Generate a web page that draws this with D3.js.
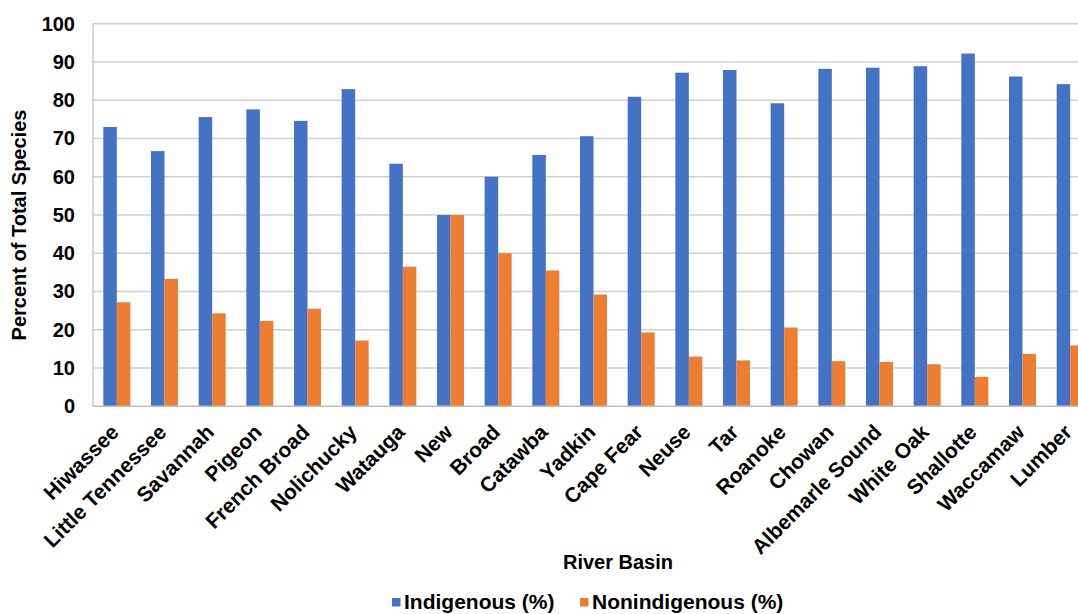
<!DOCTYPE html>
<html>
<head>
<meta charset="utf-8">
<script src="https://cdn.jsdelivr.net/npm/d3@7"></script>
<style>
  body { margin: 0; background: #fff; }
  svg { display: block; font-family: "Liberation Sans", Arial, sans-serif; }
</style>
</head>
<body>
<svg id="chart" width="1078" height="614"></svg>
<script>
const categories = ["Hiwassee", "Little Tennessee", "Savannah", "Pigeon", "French Broad", "Nolichucky",
  "Watauga", "New", "Broad", "Catawba", "Yadkin", "Cape Fear", "Neuse", "Tar", "Roanoke", "Chowan",
  "Albemarle Sound", "White Oak", "Shallotte", "Waccamaw", "Lumber"];
const indigenous = [73.0, 66.7, 75.6, 77.6, 74.6, 82.9, 63.4, 50.0, 60.0, 65.7, 70.6, 80.9, 87.2, 87.9,
  79.2, 88.2, 88.5, 88.9, 92.2, 86.2, 84.2];
const nonindigenous = [27.2, 33.3, 24.3, 22.3, 25.5, 17.2, 36.5, 50.0, 40.0, 35.5, 29.2, 19.3, 13.0, 12.0,
  20.6, 11.8, 11.6, 11.0, 7.7, 13.7, 15.9];
const seriesNames = ["Indigenous (%)", "Nonindigenous (%)"];
const seriesColors = ["#4472C4", "#ED7D31"];
const yTicks = [0, 10, 20, 30, 40, 50, 60, 70, 80, 90, 100];

const svg = d3.select("#chart");
const mLeft = 93, mRight = 1094, mTop = 23.7, mBottom = 406.3;

const x0 = d3.scaleBand().domain(categories).range([mLeft, mRight]).padding(0);
const half = 13.5;
const x1 = d3.scaleBand().domain(seriesNames)
  .range([x0.bandwidth() / 2 - half, x0.bandwidth() / 2 + half]).padding(0);
const y = d3.scaleLinear().domain([0, 100]).range([mBottom, mTop]);

// gridlines
svg.append("g").selectAll("line").data(yTicks.filter(d => d > 0)).join("line")
  .attr("x1", mLeft).attr("x2", 1078)
  .attr("y1", d => y(d)).attr("y2", d => y(d))
  .attr("stroke", "#d0d0d0").attr("stroke-width", 1.5);

// left axis line
svg.append("line").attr("x1", mLeft).attr("x2", mLeft).attr("y1", y(100)).attr("y2", y(0))
  .attr("stroke", "#c8c8c8").attr("stroke-width", 1.5);

// bars
const rows = categories.map((c, i) => ({ c, vals: [indigenous[i], nonindigenous[i]] }));
const groups = svg.append("g").selectAll("g").data(rows).join("g")
  .attr("transform", d => `translate(${x0(d.c)},0)`);
groups.selectAll("rect").data(d => d.vals.map((v, k) => ({ v, k }))).join("rect")
  .attr("x", d => x1(seriesNames[d.k]))
  .attr("width", x1.bandwidth())
  .attr("y", d => y(d.v))
  .attr("height", d => y(0) - y(d.v))
  .attr("fill", d => seriesColors[d.k]);

// bottom axis line
svg.append("line").attr("x1", mLeft).attr("x2", 1078).attr("y1", y(0)).attr("y2", y(0))
  .attr("stroke", "#bfbfbf").attr("stroke-width", 1.5);

// y axis
const yAxis = d3.axisLeft(y).tickValues(yTicks).tickSize(0).tickPadding(18);
const gy = svg.append("g").attr("transform", `translate(${mLeft},0)`).call(yAxis);
gy.select(".domain").remove();
gy.selectAll("text").attr("font-size", 20).attr("font-weight", "bold").attr("fill", "#000")
  .attr("font-family", "Liberation Sans, Arial, sans-serif");

// x axis labels
const xAxis = d3.axisBottom(x0).tickSize(0).tickPadding(0);
const gx = svg.append("g").attr("transform", `translate(0,${mBottom})`).call(xAxis);
gx.select(".domain").remove();
gx.selectAll("text")
  .attr("font-size", 21).attr("font-weight", "bold").attr("fill", "#000")
  .attr("font-family", "Liberation Sans, Arial, sans-serif")
  .attr("text-anchor", "end")
  .attr("y", 0).attr("dy", "0.35em")
  .attr("transform", "translate(-2,22) rotate(-45)");

// axis titles
svg.append("text").attr("transform", `translate(26,${(mTop + mBottom) / 2 + 10}) rotate(-90)`)
  .attr("text-anchor", "middle").attr("font-size", 20).attr("font-weight", "bold")
  .text("Percent of Total Species");
svg.append("text").attr("x", 618).attr("y", 569).attr("text-anchor", "middle")
  .attr("font-size", 20).attr("font-weight", "bold").text("River Basin");

// legend
const legendX = [392, 580];
const lg = svg.append("g").selectAll("g").data(seriesNames).join("g")
  .attr("transform", (d, i) => `translate(${legendX[i]},602)`);
lg.append("rect").attr("x", 0).attr("y", -4).attr("width", 8.5).attr("height", 8.5)
  .attr("fill", (d, i) => seriesColors[i]);
lg.append("text").attr("x", 12).attr("y", 0).attr("dy", "0.35em")
  .attr("font-size", 21).attr("font-weight", "bold").text(d => d);
</script>
</body>
</html>
